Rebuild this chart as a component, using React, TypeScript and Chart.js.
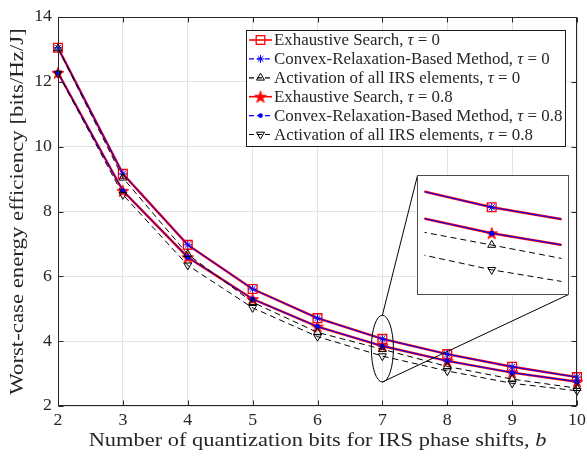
import React, { useEffect, useRef } from 'react';
import { Chart, registerables } from 'chart.js';

Chart.register(...registerables);

// ---------------- data ----------------
const bits = [2, 3, 4, 5, 6, 7, 8, 9, 10];
const esTau0 = [13.05, 9.16, 6.97, 5.61, 4.71, 4.07, 3.6, 3.21, 2.89];
const crTau0 = [13.05, 9.16, 6.97, 5.61, 4.71, 4.07, 3.6, 3.21, 2.89];
const actTau0 = [13.03, 9.04, 6.68, 5.2, 4.27, 3.75, 3.22, 2.83, 2.55];
const esTau08 = [12.28, 8.64, 6.59, 5.3, 4.45, 3.85, 3.39, 3.03, 2.75];
const crTau08 = [12.28, 8.64, 6.59, 5.3, 4.45, 3.85, 3.39, 3.03, 2.75];
const actTau08 = [12.26, 8.52, 6.34, 5.03, 4.14, 3.54, 3.08, 2.7, 2.47];

const xTicks = [2, 3, 4, 5, 6, 7, 8, 9, 10];
const yTicks = [2, 4, 6, 8, 10, 12, 14];
const xRange = [2, 10];
const yRange = [2, 14];

const methodNames = ['Exhaustive Search', 'Convex-Relaxation-Based Method', 'Activation of all IRS elements'];
const tauValues = ['0', '0.8'];

const xTitleText = 'Number of quantization bits for IRS phase shifts, ';
const xTitleVar = 'b';
const yTitleText = 'Worst-case energy efficiency [bits/Hz/J]';

// zoomed region shown in inset and the ellipse marking it (data units)
const zoomX = [6.794, 7.214];
const zoomY = [3.39, 4.28];
const ellipseCenter = [7, 3.77];
const ellipseRadii = [0.17, 1.03];

// ---------------- layout / style ----------------
const W = 587;
const H = 456;
const INSET = { left: 417, top: 175, width: 152, height: 120 };
const LEG = { left: 246, top: 30, right: 566, bottom: 147, row0: 40, rowStep: 18.9 };
const FONT = "'Liberation Serif', 'Times New Roman', serif";
const AXC = '#262626';

function makePentagram(size: number, fill: string, stroke: string) {
  const c = document.createElement('canvas');
  c.width = size;
  c.height = size;
  const ctx = c.getContext('2d')!;
  const cx = size / 2;
  const cy = size / 2 + 0.6;
  const R = size / 2 - 0.8;
  const r = R * 0.382;
  ctx.beginPath();
  for (let i = 0; i < 10; i++) {
    const a = -Math.PI / 2 + (i * Math.PI) / 5;
    const rad = i % 2 ? r : R;
    ctx.lineTo(cx + rad * Math.cos(a), cy + rad * Math.sin(a));
  }
  ctx.closePath();
  ctx.fillStyle = fill;
  ctx.fill();
  ctx.strokeStyle = stroke;
  ctx.lineWidth = 1;
  ctx.stroke();
  return c;
}

type SeriesStyle = {
  label: string;
  data: number[];
  color: string;
  width: number;
  dash: number[];
  pointStyle: any;
  radius: number;
  pointBg: string;
  pointBorderWidth: number;
  rotation: number;
  order: number;
  marker: string;
};

function buildSeries(star: HTMLCanvasElement): SeriesStyle[] {
  return [
    { label: `${methodNames[0]}, τ = ${tauValues[0]}`, data: esTau0, color: '#ff0000', width: 2.4, dash: [], pointStyle: 'rect', radius: 6.2, pointBg: 'rgba(0,0,0,0)', pointBorderWidth: 1.3, rotation: 0, order: 3, marker: 'rect' },
    { label: `${methodNames[1]}, τ = ${tauValues[0]}`, data: crTau0, color: '#0000ff', width: 1, dash: [], pointStyle: 'star', radius: 4.2, pointBg: '#0000ff', pointBorderWidth: 1, rotation: 0, order: 2, marker: 'star' },
    { label: `${methodNames[2]}, τ = ${tauValues[0]}`, data: actTau0, color: '#000000', width: 1, dash: [6, 4], pointStyle: 'triangle', radius: 4.6, pointBg: 'rgba(0,0,0,0)', pointBorderWidth: 1, rotation: 0, order: 1, marker: 'triUp' },
    { label: `${methodNames[0]}, τ = ${tauValues[1]}`, data: esTau08, color: '#ff0000', width: 2.4, dash: [], pointStyle: star, radius: 6, pointBg: '#ff0000', pointBorderWidth: 1, rotation: 0, order: 3, marker: 'pent' },
    { label: `${methodNames[1]}, τ = ${tauValues[1]}`, data: crTau08, color: '#0000ff', width: 1, dash: [], pointStyle: 'circle', radius: 2.6, pointBg: '#0000ff', pointBorderWidth: 0, rotation: 0, order: 2, marker: 'dot' },
    { label: `${methodNames[2]}, τ = ${tauValues[1]}`, data: actTau08, color: '#000000', width: 1, dash: [6, 4], pointStyle: 'triangle', radius: 4.6, pointBg: 'rgba(0,0,0,0)', pointBorderWidth: 1, rotation: 180, order: 1, marker: 'triDown' },
  ];
}

function toDatasets(series: SeriesStyle[], clip: any) {
  return series.map((s) => ({
    label: s.label,
    data: bits.map((b, i) => ({ x: b, y: s.data[i] })),
    borderColor: s.color,
    borderWidth: s.width,
    borderDash: s.dash,
    pointStyle: s.pointStyle,
    pointRadius: s.radius,
    pointBackgroundColor: s.pointBg,
    pointBorderColor: s.color,
    pointBorderWidth: s.pointBorderWidth,
    pointRotation: s.rotation,
    tension: 0,
    fill: false,
    order: s.order,
    clip,
  }));
}

function drawMarker(ctx: CanvasRenderingContext2D, kind: string, x: number, y: number, star: HTMLCanvasElement) {
  ctx.save();
  ctx.setLineDash([]);
  if (kind === 'rect') {
    ctx.strokeStyle = '#ff0000';
    ctx.lineWidth = 1.3;
    ctx.strokeRect(x - 4.3, y - 4.3, 8.6, 8.6);
  } else if (kind === 'star') {
    ctx.strokeStyle = '#0000ff';
    ctx.lineWidth = 1;
    ctx.beginPath();
    const r = 4;
    ctx.moveTo(x - r, y); ctx.lineTo(x + r, y);
    ctx.moveTo(x, y - r); ctx.lineTo(x, y + r);
    const d = r * Math.SQRT1_2;
    ctx.moveTo(x - d, y - d); ctx.lineTo(x + d, y + d);
    ctx.moveTo(x - d, y + d); ctx.lineTo(x + d, y - d);
    ctx.stroke();
  } else if (kind === 'dot') {
    ctx.fillStyle = '#0000ff';
    ctx.beginPath();
    ctx.arc(x, y, 2.4, 0, Math.PI * 2);
    ctx.fill();
  } else if (kind === 'pent') {
    ctx.drawImage(star, x - star.width / 2, y - star.height / 2);
  } else if (kind === 'triUp' || kind === 'triDown') {
    const s = kind === 'triUp' ? 1 : -1;
    const r = 4.6;
    ctx.strokeStyle = '#000';
    ctx.lineWidth = 1;
    ctx.beginPath();
    ctx.moveTo(x, y - s * r);
    ctx.lineTo(x + r * 0.866, y + s * r * 0.5);
    ctx.lineTo(x - r * 0.866, y + s * r * 0.5);
    ctx.closePath();
    ctx.stroke();
  }
  ctx.restore();
}

// draws mixed regular/italic text, horizontally stretched by sx to mimic the wider TeX face
function drawRich(
  ctx: CanvasRenderingContext2D,
  parts: { t: string; it?: boolean }[],
  x: number,
  y: number,
  size: number,
  align: 'left' | 'center' | 'right',
  sx: number,
) {
  const fontOf = (it?: boolean) => `${it ? 'italic ' : ''}${size}px ${FONT}`;
  let total = 0;
  const widths = parts.map((p) => {
    ctx.font = fontOf(p.it);
    const w = ctx.measureText(p.t).width;
    total += w;
    return w;
  });
  const start = align === 'center' ? x - (total * sx) / 2 : align === 'right' ? x - total * sx : x;
  ctx.save();
  ctx.translate(start, y);
  ctx.scale(sx, 1);
  ctx.textAlign = 'left';
  let cx = 0;
  parts.forEach((p, i) => {
    ctx.font = fontOf(p.it);
    ctx.fillText(p.t, cx, 0);
    cx += widths[i];
  });
  ctx.restore();
}

export default function App() {
  const mainRef = useRef<HTMLCanvasElement>(null);
  const insetRef = useRef<HTMLCanvasElement>(null);

  useEffect(() => {
    const star = makePentagram(14, '#ff0000', '#ff0000');
    const series = buildSeries(star);

    const decor = {
      id: 'decor',
      afterDraw(chart: any) {
        const { ctx, chartArea: a } = chart;
        const xs = chart.scales.x;
        const ys = chart.scales.y;
        ctx.save();
        // box
        ctx.strokeStyle = AXC;
        ctx.lineWidth = 1;
        ctx.setLineDash([]);
        const L = Math.round(a.left) + 0.5;
        const R = Math.round(a.right) - 0.5;
        const T = Math.round(a.top) + 0.5;
        const B = Math.round(a.bottom) - 0.5;
        ctx.strokeRect(L, T, R - L, B - T);
        // inward ticks
        ctx.beginPath();
        xTicks.forEach((v) => {
          const px = Math.round(xs.getPixelForValue(v)) + 0.5;
          ctx.moveTo(px, B); ctx.lineTo(px, B - 5);
          ctx.moveTo(px, T); ctx.lineTo(px, T + 5);
        });
        yTicks.forEach((v) => {
          const py = Math.round(ys.getPixelForValue(v)) + 0.5;
          ctx.moveTo(L, py); ctx.lineTo(L + 5, py);
          ctx.moveTo(R, py); ctx.lineTo(R - 5, py);
        });
        ctx.stroke();

        // tick labels
        ctx.fillStyle = AXC;
        ctx.textBaseline = 'middle';
        xTicks.forEach((v) => {
          drawRich(ctx, [{ t: String(v) }], xs.getPixelForValue(v), 421, 17, 'center', 1.05);
        });
        yTicks.forEach((v) => {
          drawRich(ctx, [{ t: String(v) }], 52, ys.getPixelForValue(v), 17, 'right', 1.05);
        });

        // ellipse + connectors
        const cx = xs.getPixelForValue(ellipseCenter[0]);
        const cy = ys.getPixelForValue(ellipseCenter[1]);
        const rx = Math.abs(xs.getPixelForValue(ellipseCenter[0] + ellipseRadii[0]) - cx);
        const ry = Math.abs(ys.getPixelForValue(ellipseCenter[1] + ellipseRadii[1]) - cy);
        ctx.strokeStyle = '#000';
        ctx.beginPath();
        ctx.ellipse(cx, cy, rx, ry, 0, 0, Math.PI * 2);
        ctx.stroke();
        ctx.beginPath();
        ctx.moveTo(cx, cy - ry);
        ctx.lineTo(INSET.left + 0.5, INSET.top + 0.5);
        ctx.moveTo(cx, cy + ry);
        ctx.lineTo(INSET.left + INSET.width - 0.5, INSET.top + INSET.height - 0.5);
        ctx.stroke();

        // axis titles
        ctx.fillStyle = AXC;
        ctx.textBaseline = 'middle';
        drawRich(ctx, [{ t: xTitleText }, { t: xTitleVar, it: true }], (a.left + a.right) / 2, 441, 19, 'center', 1.18);
        ctx.save();
        ctx.translate(18, (a.top + a.bottom) / 2);
        ctx.rotate(-Math.PI / 2);
        drawRich(ctx, [{ t: yTitleText }], 0, 0, 19, 'center', 1.2);
        ctx.restore();

        // legend
        ctx.fillStyle = '#ffffff';
        ctx.fillRect(LEG.left, LEG.top, LEG.right - LEG.left, LEG.bottom - LEG.top);
        ctx.strokeStyle = '#1a1a1a';
        ctx.lineWidth = 1;
        ctx.strokeRect(LEG.left + 0.5, LEG.top + 0.5, LEG.right - LEG.left - 1, LEG.bottom - LEG.top - 1);
        series.forEach((s, i) => {
          const y = LEG.row0 + i * LEG.rowStep;
          ctx.save();
          ctx.strokeStyle = s.color;
          ctx.lineWidth = s.marker === 'rect' || s.marker === 'pent' ? 1.6 : 1.2;
          ctx.setLineDash(s.dash.length ? [5, 3] : s.marker === 'star' || s.marker === 'dot' ? [5, 3] : []);
          ctx.beginPath();
          ctx.moveTo(LEG.left + 3, y);
          ctx.lineTo(LEG.left + 26, y);
          ctx.stroke();
          ctx.restore();
          drawMarker(ctx, s.marker, LEG.left + 14.5, y, star);
          ctx.fillStyle = AXC;
          ctx.textBaseline = 'middle';
          const tau = tauValues[i < 3 ? 0 : 1];
          drawRich(ctx, [{ t: `${methodNames[i % 3]}, ` }, { t: 'τ', it: true }, { t: ` = ${tau}` }], LEG.left + 28, y + 1, 16, 'left', 1.055);
        });
        ctx.restore();
      },
    };

    const main = new Chart(mainRef.current!, {
      type: 'line',
      data: { datasets: toDatasets(series, false) as any },
      options: {
        responsive: false,
        animation: false,
        devicePixelRatio: 1,
        layout: { padding: { top: 17, right: 10, left: 0, bottom: 0 } },
        plugins: { legend: { display: false }, tooltip: { enabled: false } },
        scales: {
          x: {
            type: 'linear',
            min: xRange[0],
            max: xRange[1],
            afterBuildTicks: (sc: any) => { sc.ticks = xTicks.map((v) => ({ value: v })); },
            afterFit: (sc: any) => { sc.height = 50; },
            ticks: { display: false, autoSkip: false },
            grid: { color: '#e3e3e3', drawTicks: false, lineWidth: 1 },
            border: { display: false },
          },
          y: {
            type: 'linear',
            min: yRange[0],
            max: yRange[1],
            afterBuildTicks: (sc: any) => { sc.ticks = yTicks.map((v) => ({ value: v })); },
            afterFit: (sc: any) => { sc.width = 58; },
            ticks: { display: false, autoSkip: false },
            grid: { color: '#e3e3e3', drawTicks: false, lineWidth: 1 },
            border: { display: false },
          },
        },
      },
      plugins: [decor],
    } as any);

    const insetFrame = {
      id: 'insetFrame',
      beforeDraw(chart: any) {
        const { ctx, width, height } = chart;
        ctx.save();
        ctx.fillStyle = '#ffffff';
        ctx.fillRect(0, 0, width, height);
        ctx.restore();
      },
      afterDraw(chart: any) {
        const { ctx, width, height } = chart;
        ctx.save();
        ctx.strokeStyle = '#4d4d4d';
        ctx.lineWidth = 1;
        ctx.strokeRect(0.5, 0.5, width - 1, height - 1);
        ctx.restore();
      },
    };

    const inset = new Chart(insetRef.current!, {
      type: 'line',
      data: { datasets: toDatasets(series, 0) as any },
      options: {
        responsive: false,
        animation: false,
        devicePixelRatio: 1,
        layout: { padding: 0 },
        plugins: { legend: { display: false }, tooltip: { enabled: false } },
        scales: {
          x: { type: 'linear', min: zoomX[0], max: zoomX[1], display: false },
          y: { type: 'linear', min: zoomY[0], max: zoomY[1], display: false },
        },
      },
      plugins: [insetFrame],
    } as any);

    return () => {
      main.destroy();
      inset.destroy();
    };
  }, []);

  return (
    <div style={{ position: 'absolute', left: 0, top: 0, width: W, height: H, background: '#fff' }}>
      <canvas ref={mainRef} width={W} height={H} style={{ position: 'absolute', left: 0, top: 0 }} />
      <canvas ref={insetRef} width={INSET.width} height={INSET.height} style={{ position: 'absolute', left: INSET.left, top: INSET.top }} />
    </div>
  );
}
